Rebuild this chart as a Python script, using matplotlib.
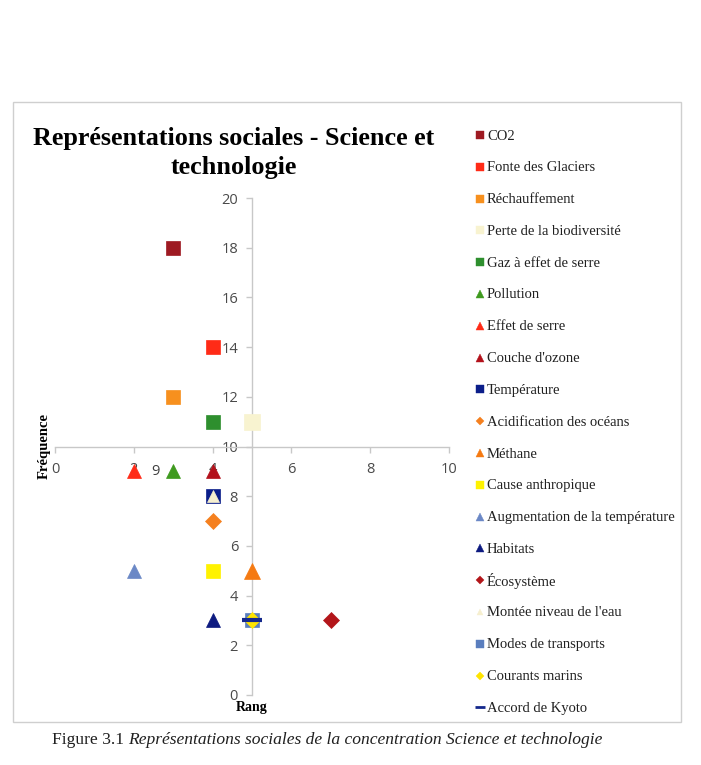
import matplotlib
matplotlib.use("Agg")
import matplotlib.pyplot as plt
from matplotlib.patches import Rectangle

# ---- data ----
labels = ["CO2", "Fonte des Glaciers", "Réchauffement", "Perte de la biodiversité",
          "Gaz à effet de serre", "Pollution", "Effet de serre", "Couche d'ozone",
          "Température", "Acidification des océans", "Méthane", "Cause anthropique",
          "Augmentation de la température", "Habitats", "Écosystème",
          "Montée niveau de l'eau", "Modes de transports", "Courants marins",
          "Accord de Kyoto"]
rang = [3, 4, 3, 5, 4, 3, 2, 4, 4, 4, 5, 4, 2, 4, 7, 4, 5, 5, 5]
frequence = [18, 14, 12, 11, 11, 9, 9, 9, 8, 7, 5, 5, 5, 3, 3, 8, 3, 3, 3]
markers = ["s", "s", "s", "s", "s", "^", "^", "^", "s", "D", "^", "s", "^", "^", "D",
           "^", "s", "D", "_"]
colors = ["#9E1A22", "#FF2B17", "#F7901E", "#F8F3D0", "#2E8F2E", "#3F9A1F", "#FF2B17",
          "#B3111B", "#0B1E8A", "#F5801F", "#F57A12", "#FFF200", "#6B88C6", "#0D1A80",
          "#B3161A", "#F6EFCF", "#5A7EBE", "#FFE400", "#14288C"]
sizes = [10, 10, 10, 11, 10, 10, 10, 10, 10, 8, 11, 10, 10, 10, 8, 9, 10, 8, 14]

title = "Représentations sociales - Science et\ntechnologie"
xticks = [0, 2, 4, 6, 8, 10]
yticks = [0, 2, 4, 6, 8, 10, 12, 14, 16, 18, 20]

W, H = 701, 765
fig = plt.figure(figsize=(W / 100, H / 100), dpi=100)
fig.patch.set_facecolor("white")

def fx(px):
    return px / W

def fy(py):
    return 1 - py / H

# outer frame
fig.patches.append(Rectangle((fx(13), fy(722)), fx(681) - fx(13), fy(102) - fy(722),
                             transform=fig.transFigure, fill=False,
                             edgecolor="#CFCFCF", linewidth=1.0))

ax = fig.add_axes([fx(55), fy(695), fx(449) - fx(55), fy(198) - fy(695)])
ax.set_xlim(0, 10)
ax.set_ylim(0, 20)
ax.set_facecolor("none")
for s in ["top", "right"]:
    ax.spines[s].set_visible(False)
ax.spines["left"].set_position(("data", 5))
ax.spines["bottom"].set_position(("data", 10))
for s in ["left", "bottom"]:
    ax.spines[s].set_color("#C8C8C8")
    ax.spines[s].set_linewidth(1.0)
ax.set_xticks(xticks)
ax.set_yticks(yticks)
tickfont = "Open Sans"
ax.tick_params(axis="both", colors="#C8C8C8", length=4, width=1.0, labelcolor="#4A4A4A",
               labelsize=10.5)
ax.tick_params(axis="y", pad=6)
ax.tick_params(axis="x", pad=7)
for t in ax.get_xticklabels() + ax.get_yticklabels():
    t.set_fontfamily(tickfont)

for lab, x, y, m, c, s in zip(labels, rang, frequence, markers, colors, sizes):
    mew = 3 if m == "_" else 0.5
    ax.plot([x], [y], linestyle="none", marker=m, markersize=s, color=c,
            markeredgecolor=c, markeredgewidth=mew, label=lab, zorder=3,
            clip_on=False)

# stray data label
ax.text(2.55, 9, "9", ha="center", va="center", fontsize=10.5, color="#404040",
        family=tickfont, zorder=4)

# legend (manual, evenly spaced rows)
lx0, lx1, ly0, ly1 = 468, 681, 120, 724
lax = fig.add_axes([fx(lx0), fy(ly1), fx(lx1) - fx(lx0), fy(ly0) - fy(ly1)])
lax.set_xlim(0, lx1 - lx0)
lax.set_ylim(ly1 - ly0, 0)
lax.axis("off")
row0, step = 135 - ly0, 31.8
for i, (lab, m, c, s) in enumerate(zip(labels, markers, colors, sizes)):
    yy = row0 + i * step
    mew = 2 if m == "_" else 0.3
    lax.plot([12], [yy], linestyle="none", marker=m, markersize=s * 0.55, color=c,
             markeredgecolor=c, markeredgewidth=mew)
    lax.text(19, yy + 1, lab, ha="left", va="center", fontsize=10.5,
             family="Liberation Serif", color="#202020")

fig.text(fx(234), fy(153), title, ha="center", va="center", fontsize=18.8,
         fontweight="bold", family="Liberation Serif", linespacing=1.32)
fig.text(fx(44), fy(446), "Fréquence", rotation=90, ha="center", va="center",
         fontsize=10.5, fontweight="bold", family="Liberation Serif")
fig.text(fx(252), fy(708), "Rang", ha="center", va="center", fontsize=10,
         fontweight="bold", family="Liberation Serif")

t1 = fig.text(fx(52), fy(740), "Figure 3.1 ", ha="left", va="center", fontsize=12.6,
              family="Liberation Serif", color="#202020")
fig.canvas.draw()
bb = t1.get_window_extent()
fig.text(bb.x1 / W, fy(740), "Représentations sociales de la concentration Science et technologie",
         ha="left", va="center", fontsize=12.6, style="italic",
         family="Liberation Serif", color="#202020")

fig.savefig("out.png", dpi=100, facecolor="white")
